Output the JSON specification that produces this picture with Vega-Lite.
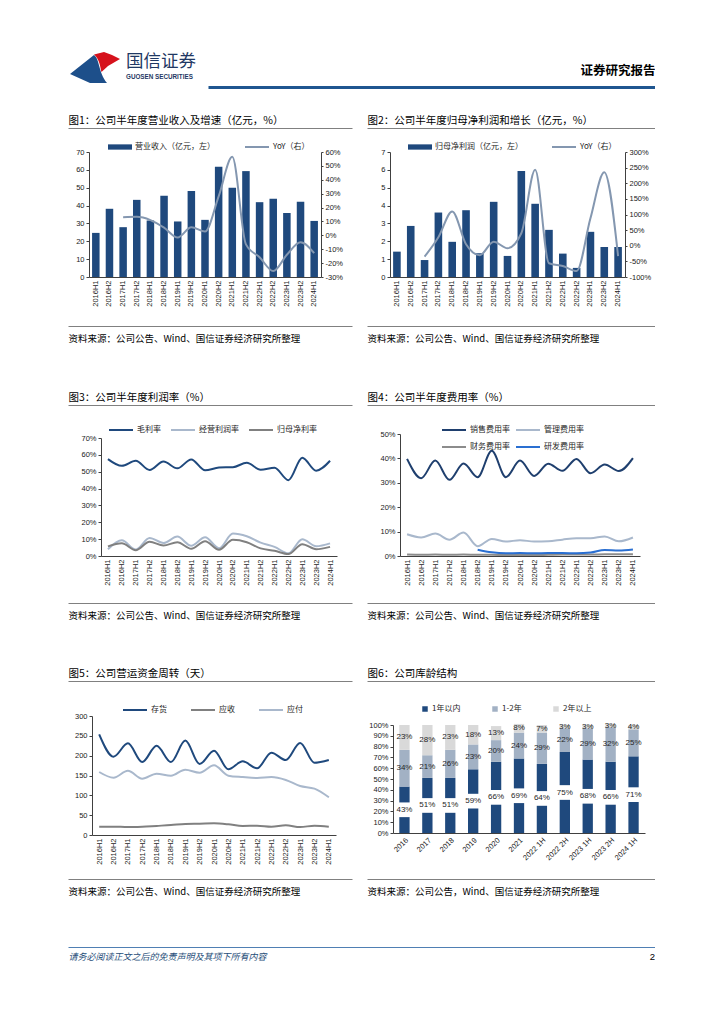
{
"$schema": "https://vega.github.io/schema/vega-lite/v6.json",
"padding": 0,
"background": "white",
"bounds": "flush",
"spacing": 0,
"resolve": {"scale": {"color": "independent", "fill": "independent", "stroke": "independent", "x": "independent", "y": "independent"}, "legend": {"color": "independent", "fill": "independent", "stroke": "independent"}},
"config": {
  "view": {"stroke": null},
  "font": "Liberation Sans",
  "axis": {"labelFont": "Liberation Sans", "labelFontSize": 7.5, "labelColor": "#1a1a1a", "domainColor": "#404040", "domainWidth": 1, "tickColor": "#404040", "tickSize": 3, "grid": false, "labelPadding": 2, "labelFlush": false, "labelOverlap": false, "titleFont": "Noto Sans CJK SC"},
  "legend": {"labelFont": "Noto Sans CJK SC", "labelFontSize": 8, "labelColor": "#262626", "padding": 0, "labelOffset": 3}
},
"datasets": {
  "半年度": [
    {"期间":"2016H1","营业收入":24.7,"营收同比":null,"归母净利润":1.42,"净利同比":null,"毛利率":57.5,"经营利润率":4.0,"归母净利率":5.7,"销售费用率":39.8,"管理费用率":8.9,"财务费用率":0.6,"研发费用率":null,"存货":253.8,"应收":21,"应付":158.8},
    {"期间":"2016H2","营业收入":38.2,"营收同比":null,"归母净利润":2.86,"净利同比":null,"毛利率":53.5,"经营利润率":9.3,"归母净利率":7.5,"销售费用率":31.9,"管理费用率":7.6,"财务费用率":0.5,"研发费用率":null,"存货":197.5,"应收":21,"应付":144.5},
    {"期间":"2017H1","营业收入":27.9,"营收同比":13.0,"归母净利润":0.95,"净利同比":-35,"毛利率":56.5,"经营利润率":3.8,"归母净利率":3.4,"销售费用率":39.1,"管理费用率":9.2,"财务费用率":0.6,"研发费用率":null,"存货":231,"应收":20,"应付":162},
    {"期间":"2017H2","营业收入":43.2,"营收同比":13.3,"归母净利润":3.61,"净利同比":27,"毛利率":51.0,"经营利润率":10.7,"归母净利率":8.4,"销售费用率":31.2,"管理费用率":6.7,"财务费用率":0.5,"研发费用率":null,"存货":184,"应收":21,"应付":142},
    {"期间":"2018H1","营业收入":31.6,"营收同比":11.0,"归母净利润":1.97,"净利同比":110,"毛利率":56.0,"经营利润率":7.7,"归母净利率":6.2,"销售费用率":37.9,"管理费用率":9.6,"财务费用率":0.6,"研发费用率":null,"存货":225,"应收":23,"应付":154.6},
    {"期间":"2018H2","营业收入":45.5,"营收同比":5.5,"归母净利润":3.74,"净利同比":5,"毛利率":52.0,"经营利润率":11.5,"归母净利率":8.2,"销售费用率":32.3,"管理费用率":4.0,"财务费用率":0.5,"研发费用率":2.6,"存货":184,"应收":25,"应付":149.6},
    {"期间":"2019H1","营业收入":31.1,"营收同比":-1.6,"归母净利润":1.33,"净利同比":-30,"毛利率":57.3,"经营利润率":6.1,"归母净利率":4.3,"销售费用率":43.1,"管理费用率":7.0,"财务费用率":0.5,"研发费用率":1.5,"存货":238,"应收":28,"应付":164.7},
    {"期间":"2019H2","营业收入":48.1,"营收同比":5.8,"归母净利润":4.21,"净利同比":13,"毛利率":50.8,"经营利润率":11.1,"归母净利率":8.8,"销售费用率":32.3,"管理费用率":5.9,"财务费用率":0.4,"研发费用率":1.1,"存货":179,"应收":28.6,"应付":157},
    {"期间":"2020H1","营业收入":32.0,"营收同比":2.7,"归母净利润":1.18,"净利同比":-8,"毛利率":52.5,"经营利润率":4.6,"归母净利率":3.7,"销售费用率":39.1,"管理费用率":6.5,"财务费用率":0.4,"研发费用率":1.2,"存货":212.6,"应收":29.4,"应付":175.6},
    {"期间":"2020H2","营业收入":61.8,"营收同比":28,"归母净利润":5.93,"净利同比":40,"毛利率":52.7,"经营利润率":13.3,"归母净利率":9.6,"销售费用率":32.8,"管理费用率":5.9,"财务费用率":0.4,"研发费用率":1.1,"存货":165.5,"应收":27,"应付":149.6},
    {"期间":"2021H1","营业收入":50.0,"营收同比":56.5,"归母净利润":4.10,"净利同比":243,"毛利率":55.3,"经营利润率":11.7,"归母净利率":8.2,"销售费用率":37.8,"管理费用率":6.0,"财务费用率":0.5,"研发费用率":1.2,"存货":185.7,"应收":22.7,"应付":146},
    {"期间":"2021H2","营业收入":59.3,"营收同比":-6.5,"归母净利润":2.64,"净利同比":-56,"毛利率":51.2,"经营利润率":7.9,"归母净利率":4.5,"销售费用率":34.9,"管理费用率":6.7,"财务费用率":0.6,"研发费用率":1.2,"存货":168,"应收":23.5,"应付":143.7},
    {"期间":"2022H1","营业收入":41.9,"营收同比":-15.8,"归母净利润":1.31,"净利同比":-65,"毛利率":52.3,"经营利润率":5.4,"归母净利率":3.1,"销售费用率":39.8,"管理费用率":7.3,"财务费用率":0.6,"研发费用率":1.1,"存货":207.6,"应收":21,"应付":146},
    {"期间":"2022H2","营业收入":43.8,"营收同比":-25.7,"归母净利润":0.51,"净利同比":-81,"毛利率":45.0,"经营利润率":1.6,"归母净利率":1.2,"销售费用率":33.9,"管理费用率":7.3,"财务费用率":0.6,"研发费用率":1.4,"存货":189,"应收":24.4,"应付":138.7},
    {"期间":"2023H1","营业收入":35.9,"营收同比":-14,"归母净利润":2.53,"净利同比":88,"毛利率":58.3,"经营利润率":9.9,"归母净利率":7.0,"销售费用率":37.5,"管理费用率":8.0,"财务费用率":0.7,"研发费用率":2.5,"存货":232,"应收":20,"应付":123.5},
    {"期间":"2023H2","营业收入":42.1,"营收同比":-5,"归母净利润":1.68,"净利同比":235,"毛利率":50.6,"经营利润率":5.8,"归母净利率":4.0,"销售费用率":34.8,"管理费用率":6.0,"财务费用率":0.7,"研发费用率":2.3,"存货":182,"应收":23.5,"应付":116.8},
    {"期间":"2024H1","营业收入":31.4,"营收同比":-12.8,"归母净利润":1.68,"净利同比":-33,"毛利率":56.5,"经营利润率":7.5,"归母净利率":5.4,"销售费用率":40.1,"管理费用率":7.6,"财务费用率":0.7,"研发费用率":2.7,"存货":189,"应收":21,"应付":95}
  ],
  "库龄": [
    {"年份":"2016","库龄":"1年以内","占比":0.43,"序":1},{"年份":"2016","库龄":"1-2年","占比":0.34,"序":2},{"年份":"2016","库龄":"2年以上","占比":0.23,"序":3},
    {"年份":"2017","库龄":"1年以内","占比":0.51,"序":1},{"年份":"2017","库龄":"1-2年","占比":0.21,"序":2},{"年份":"2017","库龄":"2年以上","占比":0.28,"序":3},
    {"年份":"2018","库龄":"1年以内","占比":0.51,"序":1},{"年份":"2018","库龄":"1-2年","占比":0.26,"序":2},{"年份":"2018","库龄":"2年以上","占比":0.23,"序":3},
    {"年份":"2019","库龄":"1年以内","占比":0.59,"序":1},{"年份":"2019","库龄":"1-2年","占比":0.23,"序":2},{"年份":"2019","库龄":"2年以上","占比":0.18,"序":3},
    {"年份":"2020","库龄":"1年以内","占比":0.66,"序":1},{"年份":"2020","库龄":"1-2年","占比":0.20,"序":2},{"年份":"2020","库龄":"2年以上","占比":0.13,"序":3},
    {"年份":"2021","库龄":"1年以内","占比":0.69,"序":1},{"年份":"2021","库龄":"1-2年","占比":0.24,"序":2},{"年份":"2021","库龄":"2年以上","占比":0.08,"序":3},
    {"年份":"2022 1H","库龄":"1年以内","占比":0.64,"序":1},{"年份":"2022 1H","库龄":"1-2年","占比":0.29,"序":2},{"年份":"2022 1H","库龄":"2年以上","占比":0.07,"序":3},
    {"年份":"2022 2H","库龄":"1年以内","占比":0.75,"序":1},{"年份":"2022 2H","库龄":"1-2年","占比":0.22,"序":2},{"年份":"2022 2H","库龄":"2年以上","占比":0.03,"序":3},
    {"年份":"2023 1H","库龄":"1年以内","占比":0.68,"序":1},{"年份":"2023 1H","库龄":"1-2年","占比":0.29,"序":2},{"年份":"2023 1H","库龄":"2年以上","占比":0.03,"序":3},
    {"年份":"2023 2H","库龄":"1年以内","占比":0.66,"序":1},{"年份":"2023 2H","库龄":"1-2年","占比":0.32,"序":2},{"年份":"2023 2H","库龄":"2年以上","占比":0.03,"序":3},
    {"年份":"2024 1H","库龄":"1年以内","占比":0.71,"序":1},{"年份":"2024 1H","库龄":"1-2年","占比":0.25,"序":2},{"年份":"2024 1H","库龄":"2年以上","占比":0.04,"序":3}
  ]
},
"vconcat": [
  {"width": 1, "height": 52, "data": {"values": [{}]}, "mark": {"type": "text", "text": ""}},
  {"hconcat": [
    {"width": 70, "height": 1, "data": {"values": [{}]}, "mark": {"type": "text", "text": ""}},
    {"width": 50, "height": 30, "data": {"values": [{}]},
     "layer": [
       {"mark": {"type": "point", "shape": "M-1,0.28L-0.04,-0.48C0.2,-0.3 0.12,0.2 0.48,0.64L-0.2,0.64Z", "size": 2500, "filled": true, "fill": "#1d4f8a", "opacity": 1, "strokeWidth": 0}},
       {"mark": {"type": "point", "shape": "M-0.04,-0.5L0.36,-0.6L0.68,-0.48L1,-0.32L0.52,-0.04L0.26,0.2C0.2,0 0.2,-0.3 -0.04,-0.5Z", "size": 2500, "filled": true, "fill": "#d6121c", "opacity": 1, "strokeWidth": 0}}
     ]},
    {"width": 88, "height": 30, "data": {"values": [{"中文": "国信证券", "英文": "GUOSEN SECURITIES"}]},
     "encoding": {"x": {"datum": 0, "type": "quantitative", "scale": {"domain": [0, 1]}, "axis": null}},
     "layer": [
       {"mark": {"type": "text", "align": "left", "baseline": "middle", "dx": 6, "dy": -5, "fontSize": 17.5, "font": "Noto Sans CJK SC", "color": "#1f3864"}, "encoding": {"text": {"field": "中文"}}},
       {"mark": {"type": "text", "align": "left", "baseline": "middle", "dx": 6, "dy": 10, "fontSize": 6.3, "fontWeight": "bold", "font": "Liberation Sans", "color": "#1f3864"}, "encoding": {"text": {"field": "英文"}}}
     ]}
  ], "bounds": "flush", "spacing": 0},
  {"width": 1, "height": 35, "data": {"values": [{}]}, "mark": {"type": "text", "text": ""}},
  {"hconcat": [
    {"width": 208, "height": 1, "data": {"values": [{}]}, "mark": {"type": "text", "text": ""}},
    {"width": 447, "height": 1, "data": {"values": [{}]}, "mark": {"type": "text", "text": ""},
     "encoding": {"x": {"datum": 0, "type": "quantitative", "scale": {"domain": [0, 1]},
       "axis": {"orient": "top", "labels": false, "ticks": false, "grid": false, "domainColor": "#1f5690", "domainWidth": 3, "title": "证券研究报告", "titleAnchor": "end", "titleAlign": "right", "titleX": 447, "titleY": -12.5, "titleBaseline": "alphabetic", "titleFontSize": 12.5, "titleFontWeight": "bold", "titleColor": "#000000"}}}}
  ], "bounds": "flush", "spacing": 0},
  {"width": 1, "height": 41, "data": {"values": [{}]}, "mark": {"type": "text", "text": ""}},
  {"hconcat": [
    {"width": 68, "height": 1, "data": {"values": [{}]}, "mark": {"type": "text", "text": ""}},
    {"width": 284, "height": 1, "data": {"values": [{}]}, "mark": {"type": "text", "text": ""},
     "encoding": {"x": {"datum": 0, "type": "quantitative", "scale": {"domain": [0, 1]},
       "axis": {"orient": "top", "labels": false, "ticks": false, "grid": false, "domainColor": "#808080", "title": "图1：公司半年度营业收入及增速（亿元，%）", "titleAnchor": "start", "titleAlign": "left", "titleX": 0, "titleY": -5, "titleBaseline": "alphabetic", "titleFontSize": 10.5, "titleFontWeight": "normal", "titleColor": "#000000"}}}},
    {"width": 15, "height": 1, "data": {"values": [{}]}, "mark": {"type": "text", "text": ""}},
    {"width": 288, "height": 1, "data": {"values": [{}]}, "mark": {"type": "text", "text": ""},
     "encoding": {"x": {"datum": 0, "type": "quantitative", "scale": {"domain": [0, 1]},
       "axis": {"orient": "top", "labels": false, "ticks": false, "grid": false, "domainColor": "#808080", "title": "图2：公司半年度归母净利润和增长（亿元，%）", "titleAnchor": "start", "titleAlign": "left", "titleX": 0, "titleY": -5, "titleBaseline": "alphabetic", "titleFontSize": 10.5, "titleFontWeight": "normal", "titleColor": "#000000"}}}}
  ], "bounds": "flush", "spacing": 0},
  {"width": 1, "height": 24, "data": {"values": [{}]}, "mark": {"type": "text", "text": ""}},
  {"hconcat": [
    {"width": 89, "height": 1, "data": {"values": [{}]}, "mark": {"type": "text", "text": ""}},
    {"width": 232, "height": 125, "data": {"name": "半年度"},
     "encoding": {"x": {"field": "期间", "type": "ordinal", "sort": null, "scale": {"paddingInner": 0.45, "paddingOuter": 0.225}, "axis": {"title": null, "labelAngle": -90, "ticks": false, "labelPadding": 3}}},
     "layer": [
       {"mark": {"type": "bar"},
        "encoding": {
          "y": {"field": "营业收入", "type": "quantitative", "scale": {"domain": [0, 70]}, "axis": {"title": null, "values": [0,10,20,30,40,50,60,70]}},
          "fill": {"datum": "营业收入（亿元，左）", "scale": {"range": ["#1f497d"]}, "legend": {"orient": "none", "legendX": 19, "legendY": -17, "title": null, "symbolType": "M-1,-0.22H1V0.22H-1Z", "symbolSize": 576, "symbolStrokeWidth": 0}}}},
       {"mark": {"type": "line", "interpolate": "monotone", "strokeWidth": 2},
        "encoding": {
          "y": {"field": "营收同比", "type": "quantitative", "scale": {"domain": [-30, 60]}, "axis": {"title": null, "orient": "right", "values": [-30,-20,-10,0,10,20,30,40,50,60], "labelExpr": "datum.value + '%'", "tickSize": 2}},
          "stroke": {"datum": "YoY（右）", "scale": {"range": ["#8497b0"]}, "legend": {"orient": "none", "legendX": 155, "legendY": -18, "title": null, "symbolType": "stroke", "symbolSize": 576, "symbolStrokeWidth": 2}}}}
     ],
     "resolve": {"scale": {"y": "independent"}}},
    {"width": 69, "height": 1, "data": {"values": [{}]}, "mark": {"type": "text", "text": ""}},
    {"width": 235, "height": 125, "data": {"name": "半年度"},
     "encoding": {"x": {"field": "期间", "type": "ordinal", "sort": null, "scale": {"paddingInner": 0.45, "paddingOuter": 0.225}, "axis": {"title": null, "labelAngle": -90, "ticks": false, "labelPadding": 3}}},
     "layer": [
       {"mark": {"type": "bar"},
        "encoding": {
          "y": {"field": "归母净利润", "type": "quantitative", "scale": {"domain": [0, 7]}, "axis": {"title": null, "values": [0,1,2,3,4,5,6,7]}},
          "fill": {"datum": "归母净利润（亿元，左）", "scale": {"range": ["#1f497d"]}, "legend": {"orient": "none", "legendX": 18, "legendY": -17, "title": null, "symbolType": "M-1,-0.22H1V0.22H-1Z", "symbolSize": 576, "symbolStrokeWidth": 0}}}},
       {"mark": {"type": "line", "interpolate": "monotone", "strokeWidth": 2},
        "encoding": {
          "y": {"field": "净利同比", "type": "quantitative", "scale": {"domain": [-100, 300]}, "axis": {"title": null, "orient": "right", "values": [-100,-50,0,50,100,150,200,250,300], "labelExpr": "datum.value + '%'", "tickSize": 2}},
          "stroke": {"datum": "YoY（右）", "scale": {"range": ["#8497b0"]}, "legend": {"orient": "none", "legendX": 161, "legendY": -18, "title": null, "symbolType": "stroke", "symbolSize": 576, "symbolStrokeWidth": 2}}}}
     ],
     "resolve": {"scale": {"y": "independent"}}}
  ], "bounds": "flush", "spacing": 0, "resolve": {"scale": {"fill": "independent", "stroke": "independent", "x": "independent", "y": "independent"}, "legend": {"fill": "independent", "stroke": "independent"}}},
  {"width": 1, "height": 174, "data": {"values": [{}]}, "mark": {"type": "text", "text": ""}},
  {"hconcat": [
    {"width": 68, "height": 1, "data": {"values": [{}]}, "mark": {"type": "text", "text": ""}},
    {"width": 284, "height": 1, "data": {"values": [{}]}, "mark": {"type": "text", "text": ""},
     "encoding": {"x": {"datum": 0, "type": "quantitative", "scale": {"domain": [0, 1]},
       "axis": {"orient": "top", "labels": false, "ticks": false, "grid": false, "domainColor": "#808080", "title": "资料来源：公司公告、Wind、国信证券经济研究所整理", "titleAnchor": "start", "titleAlign": "left", "titleX": 0, "titleY": 15, "titleBaseline": "alphabetic", "titleFontSize": 9.5, "titleFontWeight": "normal", "titleColor": "#000000"}}}},
    {"width": 15, "height": 1, "data": {"values": [{}]}, "mark": {"type": "text", "text": ""}},
    {"width": 288, "height": 1, "data": {"values": [{}]}, "mark": {"type": "text", "text": ""},
     "encoding": {"x": {"datum": 0, "type": "quantitative", "scale": {"domain": [0, 1]},
       "axis": {"orient": "top", "labels": false, "ticks": false, "grid": false, "domainColor": "#808080", "title": "资料来源：公司公告、Wind、国信证券经济研究所整理", "titleAnchor": "start", "titleAlign": "left", "titleX": 0, "titleY": 15, "titleBaseline": "alphabetic", "titleFontSize": 9.5, "titleFontWeight": "normal", "titleColor": "#000000"}}}}
  ], "bounds": "flush", "spacing": 0},
  {"width": 1, "height": 79, "data": {"values": [{}]}, "mark": {"type": "text", "text": ""}},
  {"hconcat": [
    {"width": 68, "height": 1, "data": {"values": [{}]}, "mark": {"type": "text", "text": ""}},
    {"width": 284, "height": 1, "data": {"values": [{}]}, "mark": {"type": "text", "text": ""},
     "encoding": {"x": {"datum": 0, "type": "quantitative", "scale": {"domain": [0, 1]},
       "axis": {"orient": "top", "labels": false, "ticks": false, "grid": false, "domainColor": "#808080", "title": "图3：公司半年度利润率（%）", "titleAnchor": "start", "titleAlign": "left", "titleX": 0, "titleY": -5, "titleBaseline": "alphabetic", "titleFontSize": 10.5, "titleFontWeight": "normal", "titleColor": "#000000"}}}},
    {"width": 15, "height": 1, "data": {"values": [{}]}, "mark": {"type": "text", "text": ""}},
    {"width": 288, "height": 1, "data": {"values": [{}]}, "mark": {"type": "text", "text": ""},
     "encoding": {"x": {"datum": 0, "type": "quantitative", "scale": {"domain": [0, 1]},
       "axis": {"orient": "top", "labels": false, "ticks": false, "grid": false, "domainColor": "#808080", "title": "图4：公司半年度费用率（%）", "titleAnchor": "start", "titleAlign": "left", "titleX": 0, "titleY": -5, "titleBaseline": "alphabetic", "titleFontSize": 10.5, "titleFontWeight": "normal", "titleColor": "#000000"}}}}
  ], "bounds": "flush", "spacing": 0},
  {"width": 1, "height": 29, "data": {"values": [{}]}, "mark": {"type": "text", "text": ""}},
  {"hconcat": [
    {"width": 400, "height": 1, "data": {"values": [{}]}, "mark": {"type": "text", "text": ""}},
    {"width": 240, "height": 122, "data": {"name": "半年度"},
     "transform": [{"fold": ["销售费用率", "管理费用率", "财务费用率", "研发费用率"], "as": ["指标", "数值"]}],
     "mark": {"type": "line", "interpolate": "monotone", "strokeWidth": 2},
     "encoding": {
       "x": {"field": "期间", "type": "ordinal", "sort": null, "scale": {"type": "point", "padding": 0.5}, "axis": {"title": null, "labelAngle": -90, "ticks": false, "labelPadding": 3}},
       "y": {"field": "数值", "type": "quantitative", "scale": {"domain": [0, 50]}, "axis": {"title": null, "values": [0,10,20,30,40,50], "labelExpr": "datum.value + '%'"}},
       "color": {"field": "指标", "type": "nominal", "scale": {"domain": ["销售费用率", "管理费用率", "财务费用率", "研发费用率"], "range": ["#1f3f6e", "#a9b8cc", "#8c8c8c", "#2a6fd1"]},
         "legend": {"orient": "none", "legendX": 41, "legendY": -17, "direction": "horizontal", "columns": 2, "title": null, "symbolType": "stroke", "symbolSize": 576, "symbolStrokeWidth": 2, "columnPadding": 2, "rowPadding": -13}}
     }}
  ], "bounds": "flush", "spacing": 0, "resolve": {"scale": {"color": "independent", "x": "independent", "y": "independent"}, "legend": {"color": "independent"}}},
  {"width": 1, "height": 4, "data": {"values": [{}]}, "mark": {"type": "text", "text": ""}},
  {"hconcat": [
    {"width": 101, "height": 1, "data": {"values": [{}]}, "mark": {"type": "text", "text": ""}},
    {"width": 236, "height": 118, "data": {"name": "半年度"},
     "transform": [{"fold": ["毛利率", "经营利润率", "归母净利率"], "as": ["指标", "数值"]}],
     "mark": {"type": "line", "interpolate": "monotone", "strokeWidth": 2},
     "encoding": {
       "x": {"field": "期间", "type": "ordinal", "sort": null, "scale": {"type": "point", "padding": 0.5}, "axis": {"title": null, "labelAngle": -90, "ticks": false, "labelPadding": 3}},
       "y": {"field": "数值", "type": "quantitative", "scale": {"domain": [0, 70]}, "axis": {"title": null, "values": [0,10,20,30,40,50,60,70], "labelExpr": "datum.value + '%'"}},
       "color": {"field": "指标", "type": "nominal", "scale": {"domain": ["毛利率", "经营利润率", "归母净利率"], "range": ["#1f497d", "#a9b8cc", "#808080"]},
         "legend": {"orient": "none", "legendX": 7, "legendY": -21, "direction": "horizontal", "columns": 3, "title": null, "symbolType": "stroke", "symbolSize": 576, "symbolStrokeWidth": 2, "columnPadding": 6}}
     }}
  ], "bounds": "flush", "spacing": 0, "resolve": {"scale": {"color": "independent", "x": "independent", "y": "independent"}, "legend": {"color": "independent"}}},
  {"width": 1, "height": 165, "data": {"values": [{}]}, "mark": {"type": "text", "text": ""}},
  {"hconcat": [
    {"width": 68, "height": 1, "data": {"values": [{}]}, "mark": {"type": "text", "text": ""}},
    {"width": 284, "height": 1, "data": {"values": [{}]}, "mark": {"type": "text", "text": ""},
     "encoding": {"x": {"datum": 0, "type": "quantitative", "scale": {"domain": [0, 1]},
       "axis": {"orient": "top", "labels": false, "ticks": false, "grid": false, "domainColor": "#808080", "title": "资料来源：公司公告、Wind、国信证券经济研究所整理", "titleAnchor": "start", "titleAlign": "left", "titleX": 0, "titleY": 15, "titleBaseline": "alphabetic", "titleFontSize": 9.5, "titleFontWeight": "normal", "titleColor": "#000000"}}}},
    {"width": 15, "height": 1, "data": {"values": [{}]}, "mark": {"type": "text", "text": ""}},
    {"width": 288, "height": 1, "data": {"values": [{}]}, "mark": {"type": "text", "text": ""},
     "encoding": {"x": {"datum": 0, "type": "quantitative", "scale": {"domain": [0, 1]},
       "axis": {"orient": "top", "labels": false, "ticks": false, "grid": false, "domainColor": "#808080", "title": "资料来源：公司公告、Wind、国信证券经济研究所整理", "titleAnchor": "start", "titleAlign": "left", "titleX": 0, "titleY": 15, "titleBaseline": "alphabetic", "titleFontSize": 9.5, "titleFontWeight": "normal", "titleColor": "#000000"}}}}
  ], "bounds": "flush", "spacing": 0},
  {"width": 1, "height": 78, "data": {"values": [{}]}, "mark": {"type": "text", "text": ""}},
  {"hconcat": [
    {"width": 68, "height": 1, "data": {"values": [{}]}, "mark": {"type": "text", "text": ""}},
    {"width": 284, "height": 1, "data": {"values": [{}]}, "mark": {"type": "text", "text": ""},
     "encoding": {"x": {"datum": 0, "type": "quantitative", "scale": {"domain": [0, 1]},
       "axis": {"orient": "top", "labels": false, "ticks": false, "grid": false, "domainColor": "#808080", "title": "图5：公司营运资金周转（天）", "titleAnchor": "start", "titleAlign": "left", "titleX": 0, "titleY": -5, "titleBaseline": "alphabetic", "titleFontSize": 10.5, "titleFontWeight": "normal", "titleColor": "#000000"}}}},
    {"width": 15, "height": 1, "data": {"values": [{}]}, "mark": {"type": "text", "text": ""}},
    {"width": 288, "height": 1, "data": {"values": [{}]}, "mark": {"type": "text", "text": ""},
     "encoding": {"x": {"datum": 0, "type": "quantitative", "scale": {"domain": [0, 1]},
       "axis": {"orient": "top", "labels": false, "ticks": false, "grid": false, "domainColor": "#808080", "title": "图6：公司库龄结构", "titleAnchor": "start", "titleAlign": "left", "titleX": 0, "titleY": -5, "titleBaseline": "alphabetic", "titleFontSize": 10.5, "titleFontWeight": "normal", "titleColor": "#000000"}}}}
  ], "bounds": "flush", "spacing": 0},
  {"width": 1, "height": 35, "data": {"values": [{}]}, "mark": {"type": "text", "text": ""}},
  {"hconcat": [
    {"width": 92, "height": 1, "data": {"values": [{}]}, "mark": {"type": "text", "text": ""}},
    {"width": 244, "height": 119, "data": {"name": "半年度"},
     "transform": [{"fold": ["存货", "应收", "应付"], "as": ["指标", "数值"]}],
     "mark": {"type": "line", "interpolate": "monotone", "strokeWidth": 2},
     "encoding": {
       "x": {"field": "期间", "type": "ordinal", "sort": null, "scale": {"type": "point", "padding": 0.5}, "axis": {"title": null, "labelAngle": -90, "ticks": false, "labelPadding": 3}},
       "y": {"field": "数值", "type": "quantitative", "scale": {"domain": [0, 300]}, "axis": {"title": null, "values": [0,50,100,150,200,250,300]}},
       "color": {"field": "指标", "type": "nominal", "scale": {"domain": ["存货", "应收", "应付"], "range": ["#1f497d", "#808080", "#a9b8cc"]},
         "legend": {"orient": "none", "legendX": 30, "legendY": -19, "direction": "horizontal", "columns": 3, "title": null, "symbolType": "stroke", "symbolSize": 576, "symbolStrokeWidth": 2, "columnPadding": 20}}
     }}
  ], "bounds": "flush", "spacing": 0, "resolve": {"scale": {"color": "independent", "x": "independent", "y": "independent"}, "legend": {"color": "independent"}}},
  {"width": 1, "height": 9, "data": {"values": [{}]}, "mark": {"type": "text", "text": ""}},
  {"hconcat": [
    {"width": 393, "height": 1, "data": {"values": [{}]}, "mark": {"type": "text", "text": ""}},
    {"width": 252, "height": 108, "data": {"name": "库龄"},
     "encoding": {"x": {"field": "年份", "type": "ordinal", "sort": null, "scale": {"paddingInner": 0.55, "paddingOuter": 0.275}, "axis": {"title": null, "labelAngle": -45, "ticks": false, "labelPadding": 3}}},
     "layer": [
       {"mark": {"type": "bar"},
        "encoding": {
          "y": {"field": "占比", "type": "quantitative", "stack": "zero", "scale": {"domain": [0, 1]}, "axis": {"title": null, "values": [0,0.1,0.2,0.3,0.4,0.5,0.6,0.7,0.8,0.9,1], "format": ".0%", "labelOverlap": false}},
          "color": {"field": "库龄", "type": "nominal", "scale": {"domain": ["1年以内", "1-2年", "2年以上"], "range": ["#1f497d", "#a2b1c4", "#d9d9d9"]},
            "legend": {"orient": "none", "legendX": 28, "legendY": -20, "direction": "horizontal", "columns": 3, "title": null, "symbolType": "square", "symbolSize": 30, "symbolStrokeWidth": 0, "columnPadding": 30}},
          "order": {"field": "序", "type": "quantitative"}}},
       {"transform": [{"filter": "datum['库龄'] === '1年以内'"}],
        "mark": {"type": "point", "shape": "M-1,-0.7H1V0.7H-1Z", "size": 441, "filled": true, "fill": "#ffffff", "opacity": 1, "strokeWidth": 0},
        "encoding": {"y": {"field": "占比", "type": "quantitative", "stack": "zero", "bandPosition": 0.5, "axis": {"title": null, "values": [0,0.1,0.2,0.3,0.4,0.5,0.6,0.7,0.8,0.9,1], "format": ".0%", "labelOverlap": false}}}},
       {"mark": {"type": "text", "fontSize": 8, "font": "Liberation Sans", "color": "#262626"},
        "encoding": {
          "y": {"field": "占比", "type": "quantitative", "stack": "zero", "bandPosition": 0.5, "axis": {"title": null, "values": [0,0.1,0.2,0.3,0.4,0.5,0.6,0.7,0.8,0.9,1], "format": ".0%", "labelOverlap": false}},
          "detail": {"field": "库龄"},
          "order": {"field": "序", "type": "quantitative"},
          "text": {"field": "占比", "type": "quantitative", "format": ".0%"}}}
     ]}
  ], "bounds": "flush", "spacing": 0, "resolve": {"scale": {"color": "independent", "x": "independent", "y": "independent"}, "legend": {"color": "independent"}}},
  {"width": 1, "height": 154, "data": {"values": [{}]}, "mark": {"type": "text", "text": ""}},
  {"hconcat": [
    {"width": 68, "height": 1, "data": {"values": [{}]}, "mark": {"type": "text", "text": ""}},
    {"width": 284, "height": 1, "data": {"values": [{}]}, "mark": {"type": "text", "text": ""},
     "encoding": {"x": {"datum": 0, "type": "quantitative", "scale": {"domain": [0, 1]},
       "axis": {"orient": "top", "labels": false, "ticks": false, "grid": false, "domainColor": "#808080", "title": "资料来源：公司公告、Wind、国信证券经济研究所整理", "titleAnchor": "start", "titleAlign": "left", "titleX": 0, "titleY": 15, "titleBaseline": "alphabetic", "titleFontSize": 9.5, "titleFontWeight": "normal", "titleColor": "#000000"}}}},
    {"width": 15, "height": 1, "data": {"values": [{}]}, "mark": {"type": "text", "text": ""}},
    {"width": 288, "height": 1, "data": {"values": [{}]}, "mark": {"type": "text", "text": ""},
     "encoding": {"x": {"datum": 0, "type": "quantitative", "scale": {"domain": [0, 1]},
       "axis": {"orient": "top", "labels": false, "ticks": false, "grid": false, "domainColor": "#808080", "title": "资料来源：公司公告，Wind、国信证券经济研究所整理", "titleAnchor": "start", "titleAlign": "left", "titleX": 0, "titleY": 15, "titleBaseline": "alphabetic", "titleFontSize": 9.5, "titleFontWeight": "normal", "titleColor": "#000000"}}}}
  ], "bounds": "flush", "spacing": 0},
  {"width": 1, "height": 68, "data": {"values": [{}]}, "mark": {"type": "text", "text": ""}},
  {"hconcat": [
    {"width": 68, "height": 1, "data": {"values": [{}]}, "mark": {"type": "text", "text": ""}},
    {"width": 587, "height": 1, "data": {"values": [{"页码": "2"}]},
     "encoding": {"x": {"datum": 0, "type": "quantitative", "scale": {"domain": [0, 1]},
       "axis": {"orient": "top", "labels": false, "ticks": false, "grid": false, "domainColor": "#4f7fb3", "title": "请务必阅读正文之后的免责声明及其项下所有内容", "titleAnchor": "start", "titleAlign": "left", "titleX": 0, "titleY": 12.5, "titleBaseline": "alphabetic", "titleFontSize": 9, "titleFontWeight": "normal", "titleFontStyle": "italic", "titleColor": "#1f4e79"}}},
     "layer": [
       {"mark": {"type": "text", "text": ""}},
       {"mark": {"type": "text", "align": "right", "baseline": "middle", "dy": 9, "fontSize": 9.5, "font": "Liberation Sans", "color": "#000000"},
        "encoding": {"x": {"datum": 1, "type": "quantitative"}, "text": {"field": "页码"}}}
     ]}
  ], "bounds": "flush", "spacing": 0}
]
}
